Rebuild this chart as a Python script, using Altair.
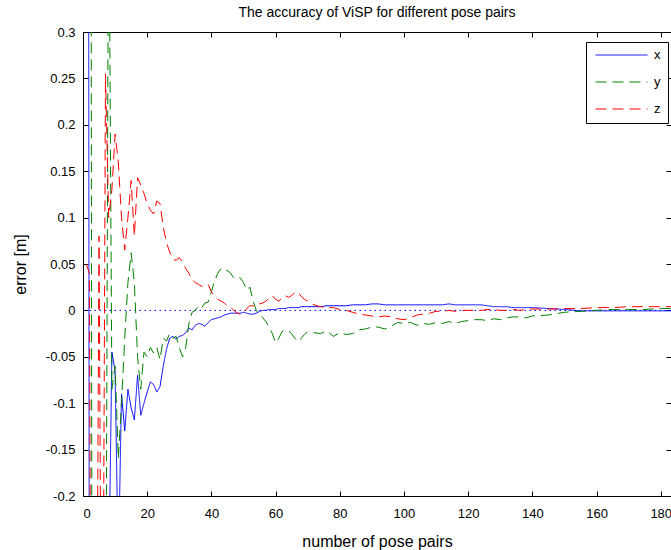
import altair as alt
import pandas as pd

# ---------------- data ----------------
n_vals = list(range(1, 71)) + list(range(72, 141, 2)) + list(range(145, 186, 5))

x_err = [
    3.0, -0.5, -0.6, -0.5, -0.55, -0.45, -0.4, -0.3, -0.045, -0.065,
    -0.28, -0.09, -0.13, -0.085, -0.105, -0.118, -0.07, -0.113, -0.1, -0.088,
    -0.077, -0.08, -0.088, -0.082, -0.06, -0.042, -0.03, -0.028, -0.031, -0.028,
    -0.027, -0.024, -0.019, -0.021, -0.016, -0.014, -0.015, -0.017, -0.013, -0.01,
    -0.009, -0.008, -0.007, -0.005, -0.004, -0.003, -0.003, -0.003, -0.003, -0.002,
    -0.003, -0.004, -0.004, -0.003, -0.001, 0.0, 0.0, 0.001, 0.001, 0.001,
    0.002, 0.002, 0.002, 0.003, 0.003, 0.003, 0.003, 0.004, 0.004, 0.004,
    # 72..140 step 2
    0.004, 0.004, 0.005, 0.005, 0.005, 0.005, 0.006, 0.006, 0.006, 0.007,
    0.007, 0.006, 0.006, 0.006, 0.006, 0.006, 0.006, 0.006, 0.006, 0.006,
    0.006, 0.007, 0.006, 0.006, 0.006, 0.006, 0.006, 0.005, 0.004, 0.004,
    0.004, 0.003, 0.003, 0.003, 0.003,
    # 145..185 step 5
    0.002, 0.001, -0.0005, -0.0005, -0.0005, -0.0005, -0.0005, -0.0005, -0.0005,
]

y_err = [
    3.0, 2.0, -1.0, -0.6, -0.5, -0.4, -0.5, 0.5, -0.085, -0.06,
    -0.16, -0.1, -0.03, 0.03, 0.062, 0.03, -0.05, -0.085, -0.045, -0.05,
    -0.04, -0.046, -0.04, -0.053, -0.03, -0.033, -0.025, -0.03, -0.028, -0.04,
    -0.05, -0.04, -0.014, -0.002, 0.0, 0.005, 0.003, 0.008, 0.009, 0.02,
    0.032, 0.04, 0.045, 0.042, 0.043, 0.04, 0.035, 0.036, 0.035, 0.03,
    0.022, 0.025, 0.01, 0.0, -0.005, -0.008, -0.012, -0.018, -0.025, -0.035,
    -0.03, -0.023, -0.021, -0.022, -0.025, -0.03, -0.034, -0.03, -0.026, -0.023,
    # 72..140 step 2
    -0.024, -0.025, -0.022, -0.028, -0.024, -0.026, -0.025, -0.021, -0.02, -0.018,
    -0.018, -0.02, -0.017, -0.013, -0.014, -0.013, -0.016, -0.014, -0.015, -0.013,
    -0.014, -0.012, -0.014, -0.012, -0.011, -0.01, -0.01, -0.011, -0.009, -0.01,
    -0.008, -0.007, -0.007, -0.008, -0.006,
    # 145..185 step 5
    -0.005, -0.002, -0.001, 0.0, 0.001, 0.001, 0.001, 0.002, 0.002,
]

z_err = [
    0.05, 0.04, -1.0, -0.6, 0.08, -0.6, 0.255, 0.10, 0.13, 0.19,
    0.16, 0.10, 0.065, 0.10, 0.14, 0.08, 0.143, 0.135, 0.126, 0.115,
    0.108, 0.104, 0.118, 0.115, 0.09, 0.073, 0.063, 0.055, 0.054, 0.057,
    0.052, 0.045, 0.04, 0.033, 0.03, 0.028, 0.026, 0.027, 0.028, 0.02,
    0.016, 0.012, 0.01, 0.008, 0.005, 0.003, 0.0, -0.003, -0.004, -0.003,
    0.002, 0.005, 0.005, 0.004, 0.007, 0.008, 0.01, 0.013, 0.016, 0.012,
    0.01, 0.013, 0.016, 0.014, 0.016, 0.019, 0.02, 0.015, 0.012, 0.01,
    # 72..140 step 2
    0.006, 0.004, 0.003, 0.003, 0.001, 0.0, -0.002, -0.004, -0.005, -0.006,
    -0.007, -0.006, -0.007, -0.009, -0.01, -0.008, -0.005, -0.004, -0.003, -0.001,
    -0.001, 0.0, -0.001, 0.0, 0.0, 0.0, 0.0, 0.001, 0.001, 0.0,
    0.0, 0.001, 0.0, 0.001, 0.0015,
    # 145..185 step 5
    0.0015, 0.002, 0.002, 0.003, 0.003, 0.004, 0.004, 0.004, 0.004,
]

series_names = ["x", "y", "z"]
series_colors = ["#0000ff", "#008000", "#ff0000"]
x_ticks = [0, 20, 40, 60, 80, 100, 120, 140, 160, 180]
y_ticks = [-0.2, -0.15, -0.1, -0.05, 0, 0.05, 0.1, 0.15, 0.2, 0.25, 0.3]
zero_level = [0]

rows = []
for name, vals in zip(series_names, [x_err, y_err, z_err]):
    for n, v in zip(n_vals, vals):
        rows.append({"n": n, "err": v, "series": name})
df = pd.DataFrame(rows)
zero_df = pd.DataFrame({"v": zero_level})

# ---------------- layout ----------------
W, H = 588, 464
FONT = "Liberation Sans"
DASH = [11, 6]
xscale = alt.Scale(domain=[0, 183.2], nice=False, zero=False)
yscale = alt.Scale(domain=[-0.2, 0.3], nice=False, zero=False)

legend = alt.Legend(
    title=None, orient="none", legendX=503, legendY=10,
    symbolType="stroke", symbolSize=2704, symbolStrokeWidth=1, clipHeight=12,
    symbolOffset=2, labelOffset=6,
    labelFont=FONT, labelFontSize=13, labelColor="black",
    padding=7, rowPadding=14, fillColor="white", strokeColor="black",
)

zero_line = alt.Chart(zero_df).mark_rule(
    color="#0000ff", strokeDash=[1.5, 3.5], strokeWidth=1
).encode(y=alt.Y("v:Q", scale=yscale, axis=None))

lines = alt.Chart(df).mark_line(clip=True, strokeWidth=1).encode(
    x=alt.X("n:Q", scale=xscale, axis=alt.Axis(
        orient="bottom", values=x_ticks, ticks=False, grid=False,
        domainColor="black", domainWidth=1, labelFont=FONT, labelFontSize=13,
        labelColor="black", labelPadding=11, title="number of pose pairs",
        titleFont=FONT, titleFontSize=16, titleFontWeight="normal",
        titleColor="black", titlePadding=13)),
    y=alt.Y("err:Q", scale=yscale, axis=alt.Axis(
        orient="left", values=y_ticks, ticks=False, grid=False,
        domainColor="black", domainWidth=1, labelFont=FONT, labelFontSize=13,
        labelColor="black", labelPadding=8, labelExpr="'' + datum.value",
        title="error [m]", titleFont=FONT, titleFontSize=16,
        titleFontWeight="normal", titleColor="black", titlePadding=17)),
    color=alt.Color("series:N", scale=alt.Scale(domain=series_names, range=series_colors), legend=legend),
    strokeDash=alt.StrokeDash("series:N", scale=alt.Scale(
        domain=series_names, range=[[1, 0], DASH, DASH]), legend=legend),
    order=alt.Order("n:Q"),
)

# inward-pointing ticks: axes moved across the plot with negative offsets
ticks_a = alt.Chart(df).mark_point(opacity=0, clip=True).encode(
    x=alt.X("n:Q", scale=xscale, axis=alt.Axis(
        orient="top", offset=-H, values=x_ticks, labels=False, domain=False,
        grid=False, tickSize=5, tickColor="black", title=None)),
    y=alt.Y("err:Q", scale=yscale, axis=alt.Axis(
        orient="right", offset=-W, values=y_ticks, labels=False, domain=False,
        grid=False, tickSize=5, tickColor="black", title=None)),
)
ticks_b = alt.Chart(df).mark_point(opacity=0, clip=True).encode(
    x=alt.X("n:Q", scale=xscale, axis=alt.Axis(
        orient="bottom", offset=-H, values=x_ticks, labels=False, domain=True,
        domainColor="black", grid=False, tickSize=5, tickColor="black", title=None)),
    y=alt.Y("err:Q", scale=yscale, axis=alt.Axis(
        orient="left", offset=-W, values=y_ticks, labels=False, domain=True,
        domainColor="black", grid=False, tickSize=5, tickColor="black", title=None)),
)

chart = alt.layer(zero_line, lines, ticks_a, ticks_b).resolve_axis(
    x="independent", y="independent"
).properties(
    width=W, height=H,
    autosize=alt.AutoSizeParams(type="none"),
    padding={"left": 83, "top": 32, "right": 0, "bottom": 54},
    title=alt.TitleParams(
        "The accuracy of ViSP for different pose pairs", font=FONT, fontSize=14,
        fontWeight="normal", color="black", anchor="middle", offset=6),
).configure_view(stroke=None).configure(background="white")

chart.save("out.html", embed_options={"renderer": "svg", "actions": False})
